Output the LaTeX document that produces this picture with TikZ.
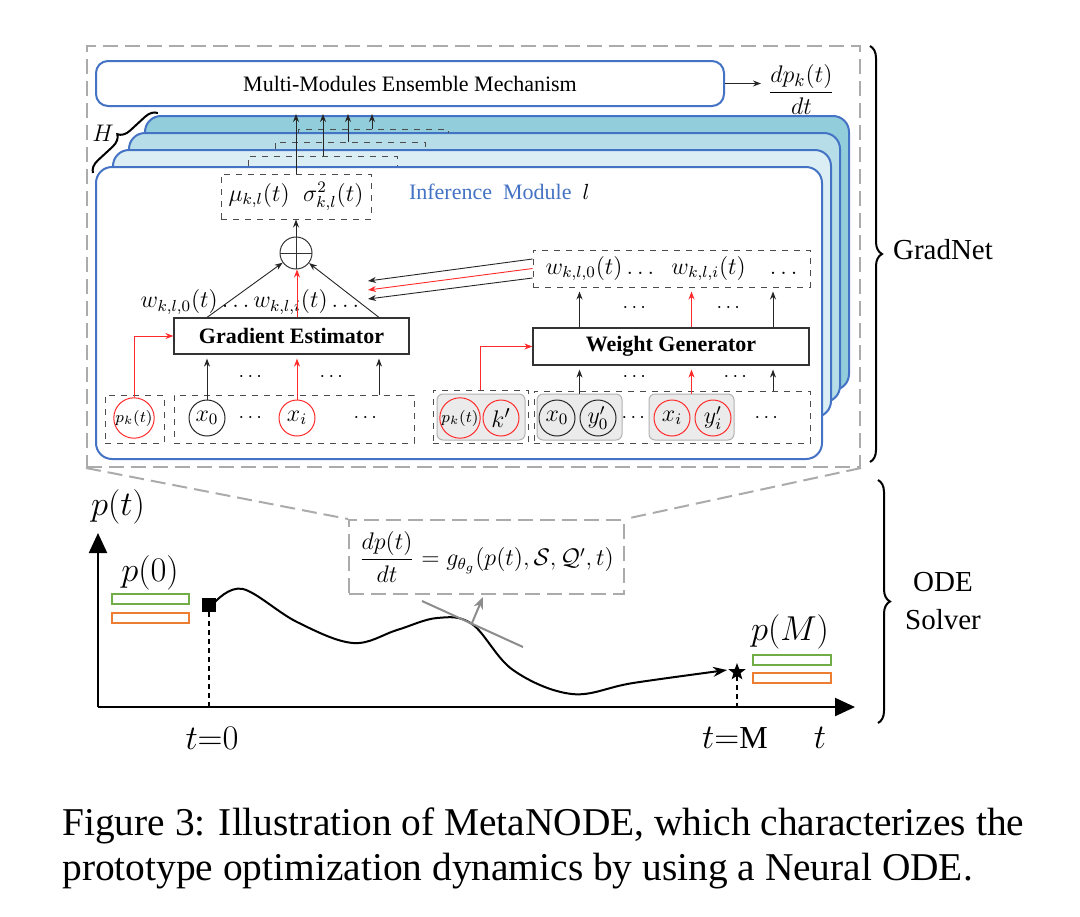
\documentclass[tikz,border=0pt]{standalone}
\usepackage{amsmath,amssymb}
\usepackage{fontspec}
\setmainfont{Liberation Serif}
\usepackage{xcolor}
\usepackage{tikz}
\usetikzlibrary{arrows.meta, positioning, shapes.geometric, decorations.pathreplacing, calc}

\definecolor{mblue}{HTML}{4472C4}
\definecolor{lay1}{HTML}{DAEEF3}
\definecolor{lay2}{HTML}{B7DEE8}
\definecolor{lay3}{HTML}{92CDDC}
\definecolor{dgrey}{HTML}{ABABAB}
\definecolor{ered}{HTML}{FF2A2A}
\definecolor{egreen}{HTML}{70AD47}
\definecolor{eorange}{HTML}{ED7D31}

\newcommand{\fs}[1]{\fontsize{#1}{#1}\selectfont}

\begin{document}
\begin{tikzpicture}[
    x=0.5pt, y=-0.5pt,
    node distance=10pt,
    modbox/.style={draw=mblue, line width=1pt, rounded corners=6pt, fill=white},
    layer/.style={draw=mblue, line width=1pt, rounded corners=8pt},
    greydash/.style={draw=dgrey, line width=1pt, dash pattern=on 7.5pt off 3.5pt},
    dbox/.style={draw=black!70, dashed, line width=0.5pt, inner sep=0pt},
    block/.style={draw=black!80, line width=0.6pt, fill=white, font=\fs{11}\bfseries},
    inp/.style={circle, draw=black!85, line width=0.5pt, minimum size=18pt, inner sep=0pt, font=\fs{12}},
    rinp/.style={inp, draw=ered},
    grp/.style={draw=black!30, fill=black!8, rounded corners=3pt, line width=0.5pt, minimum width=42.5pt, minimum height=23pt},
    arrow/.style={-{Stealth[length=4pt, width=3pt]}, line width=0.45pt, draw=black!85},
    rarrow/.style={arrow, draw=ered},
    gap/.style={shorten >=2pt},
    bar/.style={minimum width=38.5pt, minimum height=5pt, inner sep=0pt, line width=1pt},
    axis/.style={line width=1.1pt, -{Triangle[length=10pt, width=9pt]}},
    curly/.style={decorate, decoration={brace, amplitude=6pt}, line width=1pt},
    tangent/.style={draw=black!45, line width=1pt}
]
\useasboundingbox (0,0) rectangle (1080,916);

\node[greydash, minimum width=386.5pt, minimum height=210.5pt] (zoom) at (473.5,256.5) {};

\node[modbox, minimum width=314pt, minimum height=22.5pt, font=\fs{11}] (mme) at (410,83.5) {Multi-Modules Ensemble Mechanism};
\node[right=18pt of mme, yshift=-3pt, font=\fs{12.5}] (dpk) {$\dfrac{dp_k(t)}{dt}$};
\draw[arrow] (mme.east) -- (mme.east -| dpk.west);

\node[layer, fill=lay3, minimum width=352pt, minimum height=137pt] (l3) at (497,253) {};
\node[layer, fill=lay2, minimum width=355.5pt, minimum height=134.5pt] (l2) at (484.5,267.5) {};
\node[layer, fill=lay1, minimum width=359pt, minimum height=133.5pt] (l1) at (472,283.5) {};
\node[layer, fill=white, minimum width=363pt, minimum height=146pt] (infer) at (459,313) {};

\draw[curly] (93,173) -- (158,113);
\node[font=\fs{13}] (hlab) at (103,133) {$H$};

\draw[dbox] (248,166) -- (248,156) -- (397,156) -- (397,166);
\draw[dbox] (275,149) -- (275,142) -- (425,142) -- (425,149);
\draw[dbox] (298,133) -- (298,129) -- (448,129) -- (448,133);
\coordinate (b1) at (323,156);
\coordinate (b2) at (348,142);
\coordinate (b3) at (372,129);
\coordinate (atop) at (0,114);

\node[dbox, minimum width=75pt, minimum height=22.5pt, font=\fs{12}] (mu) at (296,196.5) {$\mu_{k,l}(t)\;\;\sigma^2_{k,l}(t)$};
\draw[arrow] (mu.north) -- (mu.north |- atop);
\draw[arrow] (b1) -- (b1 |- atop);
\draw[arrow] (b2) -- (b2 |- atop);
\draw[arrow] (b3) -- (b3 |- atop);

\node[anchor=west, font=\fs{11}] (iml) at (402,192) {\textcolor{mblue}{Inference\ \ Module}\ \ $l$};

\node[circle, draw=black!80, line width=0.5pt, minimum size=16pt, inner sep=0pt,
      path picture={\draw[black!80, line width=0.5pt] (path picture bounding box.north) -- (path picture bounding box.south)
                    (path picture bounding box.west) -- (path picture bounding box.east);}] (op) at (296,253) {};
\draw[arrow] (op.north) -- (mu.south);

\node[block, minimum width=117.5pt, minimum height=18pt] (ge) at (291.5,336) {Gradient Estimator};
\node[font=\fs{12}] (wleft) at (250,302) {$w_{k,l,0}(t)\ldots w_{k,l,i}(t)\ldots$};

\node[dbox, minimum width=29.5pt, minimum height=24pt] (pkbox) at (134.5,419) {};
\node[rinp, font=\fs{8}] (pk) at (134,418) {$p_k(t)$};
\node[dbox, minimum width=120pt, minimum height=24pt] (inx) at (294,419) {};
\node[inp] (x0) at (207,418) {$x_0$};
\node (d1) at (252,418) {$\cdots$};
\node[rinp] (xi) at (297,418) {$x_i$};
\node (d2) at (367,418) {$\cdots$};
\coordinate (c3) at (379,395);
\node (d3) at (252,377) {$\cdots$};
\node (d4) at (333,377) {$\cdots$};

\draw[rarrow] (pk.north) |- (ge.west);
\draw[arrow, gap] (x0.north) -- (x0 |- ge.south);
\draw[rarrow, gap] (xi.north) -- (xi |- ge.south);
\draw[arrow, gap] (c3) -- (c3 |- ge.south);
\draw[arrow] (x0 |- ge.north) -- (op);
\draw[rarrow] (xi |- ge.north) -- (xi |- op.south);
\draw[arrow] (c3 |- ge.north) -- (op);

\node[dbox, minimum width=47.5pt, minimum height=26.5pt] (pkbox2) at (480.5,416.5) {};
\node[grp, minimum width=44pt] (grp0) at (481,417) {};
\node[rinp, font=\fs{8}] (pk2) at (460,418) {$p_k(t)$};
\node[rinp, font=\fs{13}] (kp) at (501,418) {$k'$};
\node[dbox, minimum width=138pt, minimum height=26pt] (iny) at (672,417) {};
\node[grp] (grp1) at (579.5,417) {};
\node[inp] (x0b) at (557,418) {$x_0$};
\node[inp] (y0b) at (598,418) {$y'_0$};
\node (d5) at (635,418) {$\cdots$};
\node[grp] (grp2) at (691.5,417) {};
\node[rinp] (xib) at (672,418) {$x_i$};
\node[rinp] (yib) at (713,418) {$y'_i$};
\node (d6) at (768,418) {$\cdots$};
\coordinate (c6) at (773,391);

\node[block, minimum width=138pt, minimum height=18.5pt] (wg) at (671,346.5) {Weight Generator};
\node[dbox, minimum width=138.5pt, minimum height=18.5pt, font=\fs{12}] (wbox) at (671.5,268.5) {$w_{k,l,0}(t)\ldots\;\;w_{k,l,i}(t)\;\;\;\ldots$};
\node (d7) at (636,377) {$\cdots$};
\node (d8) at (737,377) {$\cdots$};
\node (d9) at (636,308) {$\cdots$};
\node (d10) at (730,308) {$\cdots$};

\draw[rarrow] (pkbox2.north) |- (wg.west);
\draw[arrow, gap] (grp1.north) -- (grp1 |- wg.south);
\draw[rarrow, gap] (grp2.north) -- (grp2 |- wg.south);
\draw[arrow, gap] (c6) -- (c6 |- wg.south);
\draw[arrow, gap] (grp1 |- wg.north) -- (grp1 |- wbox.south);
\draw[rarrow, gap] (grp2 |- wg.north) -- (grp2 |- wbox.south);
\draw[arrow, gap] (c6 |- wg.north) -- (c6 |- wbox.south);

\coordinate (wl1) at (368,281);
\coordinate (wl2) at (368,290);
\coordinate (wl3) at (368,299);
\draw[arrow] ([yshift=4.75pt]wbox.west) -- (wl1);
\draw[rarrow] (wbox.west) -- (wl2);
\draw[arrow] ([yshift=-4.75pt]wbox.west) -- (wl3);

\node[greydash, minimum width=137.5pt, minimum height=37pt, font=\fs{12}] (ode) at (486.5,557) {$\dfrac{dp(t)}{dt}=g_{\theta_g}(p(t),\mathcal{S},\mathcal{Q}',t)$};
\draw[greydash] (zoom.south west) -- (ode.north west);
\draw[greydash] (zoom.south east) -- (ode.north east);

\coordinate (o) at (98,707);
\coordinate (ytop) at (98,533);
\coordinate (xend) at (855,707);
\draw[axis] (o) -- (ytop);
\draw[axis] (o) -- (xend);

\node[font=\fs{17}] (pt) at (118,507) {$p(t)$};
\node[font=\fs{16}] (p0) at (150,573) {$p(0)$};
\node[bar, draw=egreen] (g0) at (150.5,599) {};
\node[bar, draw=eorange] (r0) at (150.5,617.5) {};
\node[fill=black, minimum size=7pt, inner sep=0pt] (sq) at (209,605) {};
\node[star, star points=5, star point ratio=2.4, fill=black, minimum size=9pt, inner sep=0pt] (st) at (737,672) {};
\draw[line width=0.6pt, dash pattern=on 2.5pt off 2pt] (sq.south) -- (sq |- o);
\draw[line width=0.6pt, dash pattern=on 2.5pt off 2pt] (st.south) -- (st |- o);

\draw[line width=1pt, -{Stealth[length=7pt, width=5pt]}] plot[smooth, tension=0.6] coordinates {(215,602) (243,589) (297,622) (353,643) (397,630) (437,618) (472,624) (513,670) (572,694) (633,683) (727,670)};

\coordinate (t1) at (422,601);
\coordinate (t2) at (523,647);
\coordinate (tp) at (472,623);
\coordinate (tn) at (483,597);
\draw[tangent] (t1) -- (t2);
\draw[tangent, -{Stealth[length=6pt, width=5pt]}] (tp) -- (tn);

\node[font=\fs{16}] (t0) at (212,738) {$t{=}0$};
\node[font=\fs{16}] (tm) at (735,738) {$t{=}\mathrm{M}$};
\node[font=\fs{16}] (tl) at (820,738) {$t$};
\node[font=\fs{16}] (pm) at (790,632) {$p(M)$};
\node[bar, draw=egreen, minimum width=39pt] (gm) at (792,660) {};
\node[bar, draw=eorange, minimum width=39pt] (rm) at (792,678) {};

\draw[curly] (870,46) -- (870,462);
\node[anchor=west, font=\fs{14.5}] (gn) at (886,250) {GradNet};
\draw[curly] (878,480) -- (878,723);
\node[align=center, font=\fontsize{14.5}{19}\selectfont] (os) at (943,601) {ODE\\Solver};

\node[anchor=base west, inner sep=0pt, font=\fs{19.7}] (cap1) at (62,835) {Figure 3: Illustration of MetaNODE, which characterizes the};
\node[anchor=base west, inner sep=0pt, font=\fs{19.7}] (cap2) at (62,880) {prototype optimization dynamics by using a Neural ODE.};
\end{tikzpicture}
\end{document}
